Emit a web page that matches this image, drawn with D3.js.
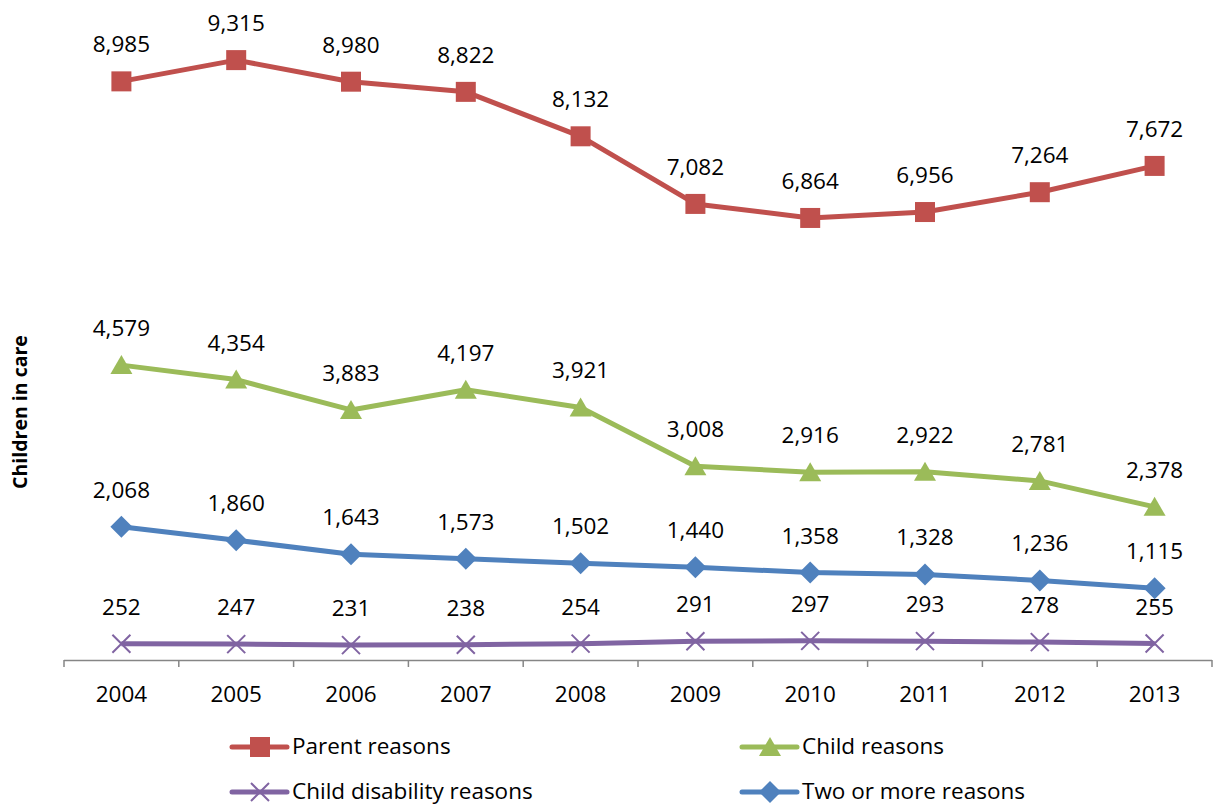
<!DOCTYPE html>
<html>
<head>
<meta charset="utf-8">
<script src="https://cdn.jsdelivr.net/npm/d3@7"></script>
<style>
  body { margin: 0; background: #fff; }
  svg { font-family: "Open Sans", "Noto Sans", sans-serif; }
</style>
</head>
<body>
<svg width="1213" height="806"></svg>
<script>
var years = ["2004","2005","2006","2007","2008","2009","2010","2011","2012","2013"];
var parentReasons = [8985, 9315, 8980, 8822, 8132, 7082, 6864, 6956, 7264, 7672];
var childReasons = [4579, 4354, 3883, 4197, 3921, 3008, 2916, 2922, 2781, 2378];
var disabilityReasons = [252, 247, 231, 238, 254, 291, 297, 293, 278, 255];
var twoOrMore = [2068, 1860, 1643, 1573, 1502, 1440, 1358, 1328, 1236, 1115];

var series = [
  {name: "Parent reasons", values: parentReasons, color: "#C0504D", marker: "square"},
  {name: "Child reasons", values: childReasons, color: "#9BBB59", marker: "triangle"},
  {name: "Child disability reasons", values: disabilityReasons, color: "#8064A2", marker: "cross"},
  {name: "Two or more reasons", values: twoOrMore, color: "#4F81BD", marker: "diamond"}
];

var svg = d3.select("svg"),
    plotLeft = 64, plotRight = 1212, plotTop = 16, plotBottom = 660,
    FONT = 22.5;

var x = d3.scaleBand().domain(years).range([plotLeft, plotRight]);
var y = d3.scaleLinear().domain([0, 10000]).range([plotBottom, plotTop]);
var cx = function(d) { return x(d) + x.bandwidth() / 2; };

// x axis, ticks on band edges
var xAxis = svg.append("g");
xAxis.append("line")
    .attr("x1", plotLeft).attr("x2", plotRight)
    .attr("y1", plotBottom + 0.5).attr("y2", plotBottom + 0.5)
    .attr("stroke", "#868686").attr("stroke-width", 1.5);
d3.range(years.length + 1).forEach(function(i) {
  var xx = plotLeft + i * x.bandwidth();
  xAxis.append("line")
      .attr("x1", xx).attr("x2", xx)
      .attr("y1", plotBottom).attr("y2", plotBottom + 7)
      .attr("stroke", "#868686").attr("stroke-width", 1.5);
});
xAxis.selectAll("text").data(years).enter().append("text")
    .attr("x", cx).attr("y", 702)
    .attr("text-anchor", "middle")
    .attr("font-size", FONT)
    .text(function(d) { return d; });

svg.append("text")
    .attr("transform", "translate(27,412) rotate(-90)")
    .attr("text-anchor", "middle")
    .attr("font-size", 19.5)
    .attr("font-weight", "bold")
    .text("Children in care");

function drawMarker(g, type, color, px, py) {
  if (type === "square") {
    g.append("rect").attr("x", px - 10).attr("y", py - 10)
        .attr("width", 20).attr("height", 20).attr("fill", color);
  } else if (type === "triangle") {
    g.append("path").attr("d", "M" + px + "," + (py - 10) + "L" + (px + 11) + "," + (py + 9) + "L" + (px - 11) + "," + (py + 9) + "Z")
        .attr("fill", color);
  } else if (type === "diamond") {
    g.append("path").attr("d", "M" + px + "," + (py - 11) + "L" + (px + 11) + "," + py + "L" + px + "," + (py + 11) + "L" + (px - 11) + "," + py + "Z")
        .attr("fill", color);
  } else {
    g.append("path").attr("d", "M" + (px - 9) + "," + (py - 9) + "L" + (px + 9) + "," + (py + 9) + "M" + (px + 9) + "," + (py - 9) + "L" + (px - 9) + "," + (py + 9))
        .attr("stroke", color).attr("stroke-width", 2).attr("fill", "none");
  }
}

var line = d3.line()
    .x(function(d, i) { return cx(years[i]); })
    .y(function(d) { return y(d); });

var fmt = d3.format(",");

series.forEach(function(s) {
  var g = svg.append("g");
  g.append("path").attr("d", line(s.values))
      .attr("fill", "none").attr("stroke", s.color).attr("stroke-width", 5)
      .attr("stroke-linejoin", "round");
  s.values.forEach(function(v, i) {
    drawMarker(g, s.marker, s.color, cx(years[i]), y(v));
  });
  g.selectAll("text").data(s.values).enter().append("text")
      .attr("x", function(d, i) { return cx(years[i]); })
      .attr("y", function(d) { return y(d) - 29; })
      .attr("text-anchor", "middle")
      .attr("font-size", FONT)
      .text(function(d) { return fmt(d); });
});

// legend
var legendPos = [[232, 747], [742, 747], [232, 792], [742, 792]];
series.forEach(function(s, i) {
  var lx = legendPos[i][0], ly = legendPos[i][1];
  var g = svg.append("g");
  g.append("line").attr("x1", lx).attr("x2", lx + 55).attr("y1", ly).attr("y2", ly)
      .attr("stroke", s.color).attr("stroke-width", 5).attr("stroke-linecap", "round");
  drawMarker(g, s.marker, s.color, lx + 28, ly);
  g.append("text").attr("x", lx + 60).attr("y", ly + 7)
      .attr("font-size", FONT)
      .text(s.name);
});
</script>
</body>
</html>
